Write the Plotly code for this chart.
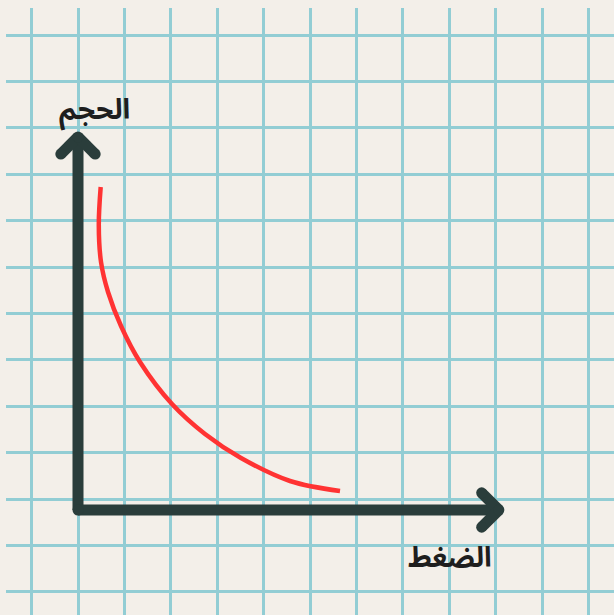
import plotly.graph_objects as go

# Curve data (grid units: pressure on x, volume on y)
pressure = [0.489, 0.448, 0.496, 0.647, 0.927, 1.336, 2.026, 2.737, 3.513, 4.569, 5.647]
volume = [6.961, 6.142, 5.345, 4.698, 3.966, 3.190, 2.284, 1.638, 1.121, 0.625, 0.409]

x_label = "الضغط"
y_label = "الحجم"

# Axis arrow extents (grid units)
X_LEN = 9.07
Y_LEN = 8.04
HEAD = 0.37

BG = "#f3efe9"
GRID = "#92cdd4"
AXIS = "#2a3d3b"
RED = "#ff3333"
TXT = "#1e1e1e"

W, H = 614, 615
ML, MT = 6, 8
UNIT = 46.4
X0PX, Y0PX = 78, 510

x_range = [(ML - X0PX) / UNIT, (W - X0PX) / UNIT]
y_range = [-(H - Y0PX) / UNIT, (Y0PX - MT) / UNIT]
y_tick0 = (Y0PX - 499) / UNIT

fig = go.Figure()

# Curve
fig.add_trace(go.Scatter(
    x=pressure, y=volume, mode="lines",
    line=dict(color=RED, width=4.5, shape="spline", smoothing=1.0),
    hoverinfo="skip", showlegend=False,
))

# Axes arrows as segments
N = None
ax_x = [0, 0, N, 0, X_LEN, N,
        -HEAD, 0, N, 0, HEAD, N,
        X_LEN - HEAD, X_LEN, N, X_LEN, X_LEN - HEAD]
ax_y = [0, Y_LEN, N, 0, 0, N,
        Y_LEN - HEAD, Y_LEN, N, Y_LEN, Y_LEN - HEAD, N,
        HEAD, 0, N, 0, -HEAD]
fig.add_trace(go.Scatter(
    x=ax_x, y=ax_y, mode="lines",
    line=dict(color=AXIS, width=11),
    hoverinfo="skip", showlegend=False,
))
cap_x = [0, 0, X_LEN, -HEAD, HEAD, X_LEN - HEAD, X_LEN - HEAD]
cap_y = [0, Y_LEN, 0, Y_LEN - HEAD, Y_LEN - HEAD, HEAD, -HEAD]
fig.add_trace(go.Scatter(
    x=cap_x, y=cap_y, mode="markers",
    marker=dict(color=AXIS, size=11, line=dict(width=0)),
    hoverinfo="skip", showlegend=False,
))

FONT = dict(family="Noto Sans Arabic, DejaVu Sans", size=28, color=TXT, weight="bold")
fig.add_annotation(x=(94 - X0PX) / UNIT, y=(Y0PX - 110) / UNIT, text=y_label,
                   showarrow=False, xanchor="center", yanchor="middle", font=FONT)
fig.add_annotation(x=(450 - X0PX) / UNIT, y=(Y0PX - 558) / UNIT, text=x_label,
                   showarrow=False, xanchor="center", yanchor="middle", font=FONT)

fig.update_xaxes(range=x_range, showgrid=True, gridcolor=GRID, gridwidth=2.5,
                 tick0=0, dtick=1, showticklabels=False, zeroline=False,
                 showline=False, ticks="", fixedrange=True)
fig.update_yaxes(range=y_range, showgrid=True, gridcolor=GRID, gridwidth=2.5,
                 tick0=y_tick0, dtick=1, showticklabels=False, zeroline=False,
                 showline=False, ticks="", fixedrange=True)

fig.update_layout(
    width=W, height=H,
    margin=dict(l=ML, r=0, t=MT, b=0),
    paper_bgcolor=BG, plot_bgcolor=BG,
    showlegend=False,
)

fig.write_html(
    "out.html",
    config={"displayModeBar": False},
    post_script="document.body.style.margin='0';document.body.style.background='%s';" % BG,
)
